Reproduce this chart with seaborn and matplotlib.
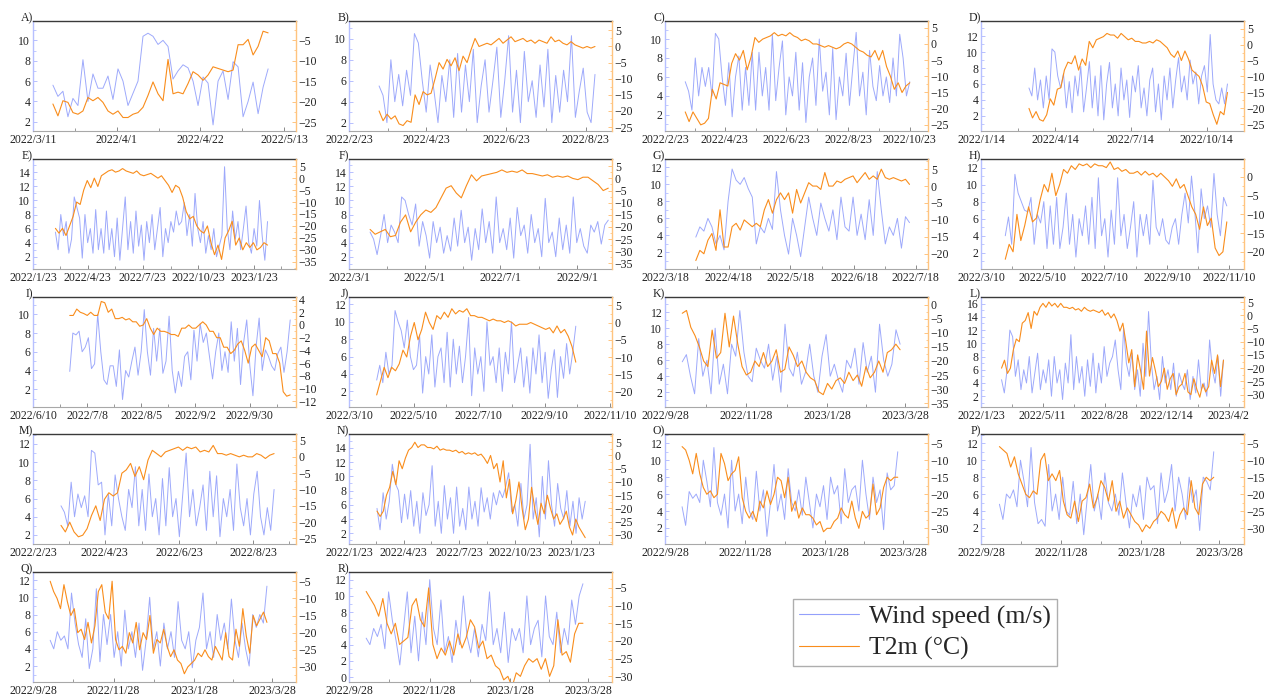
import numpy as np
import pandas as pd
import matplotlib
matplotlib.use("Agg")
import matplotlib.pyplot as plt
import matplotlib.dates as mdates
from matplotlib.ticker import MultipleLocator, FixedLocator
from matplotlib.lines import Line2D
import seaborn as sns

sns.set_theme(style="white")
plt.rcParams['font.family'] = ['Liberation Serif', 'DejaVu Serif']
plt.rcParams['axes.unicode_minus'] = True

WIND_COLOR = "#93a0fb"
TEMP_COLOR = "#f98d1c"

# ---------------- data ----------------
A_ticks = ["2022/3/11", "2022/4/1", "2022/4/22", "2022/5/13"]
A_span = ("2022-03-16", "2022-05-09")
A_wind = [5.6, 4.5, 5.0, 2.5, 4.3, 3.6, 8.1, 4.0, 6.7, 5.3, 5.3, 6.5, 4.2, 7.2, 6.0, 3.6, 4.8, 6.0, 10.4, 10.7,
          10.4, 9.6, 10.0, 9.4, 6.2, 7.0, 7.6, 7.3, 6.0, 3.6, 6.4, 5.8, 1.7, 6.0, 7.0, 4.2, 7.9, 7.4, 2.5, 4.0,
          5.9, 2.8, 5.4, 7.2]
A_temp = [-20.6, -23.5, -19.8, -20.2, -22.7, -23.1, -22.3, -19.0, -19.8, -19.0, -20.2, -22.3, -23.1, -22.3,
          -23.9, -23.9, -23.1, -22.7, -21.4, -18.5, -15.2, -18.1, -19.8, -9.7, -18.1, -17.7, -18.1, -15.6,
          -12.7, -13.5, -14.8, -13.5, -11.5, -11.9, -12.3, -12.7, -12.3, -6.1, -6.1, -4.8, -8.6, -6.5, -2.8, -3.2]

B_ticks = ["2022/2/23", "2022/4/23", "2022/6/23", "2022/8/23"]
B_span = ("2022-03-18", "2022-08-30")
B_wind = [5.5, 4.6, 2.0, 8.0, 4.0, 6.6, 3.6, 7.0, 4.6, 10.5, 9.6, 6.0, 3.0, 7.5, 5.0, 2.0, 6.5, 4.0, 8.0, 2.5,
          8.6, 3.0, 7.5, 4.0, 9.0, 2.0, 5.5, 8.0, 3.0, 6.0, 9.2, 2.5, 6.0, 10.3, 3.0, 7.0, 2.0, 8.8, 4.0, 6.0,
          2.5, 7.5, 3.5, 9.0, 2.0, 6.5, 3.0, 7.0, 4.0, 10.3, 2.5, 5.0, 7.2, 3.0, 2.0, 6.6]
B_temp = [-20, -23, -21, -22.5, -21.5, -24, -24.5, -23, -23.5, -15, -18, -14, -15, -14.5, -10, -5, -7, -4, -6,
          -3.5, -7.5, -3, -5, -1, 2.5, 0, 0.5, 1, 0.5, 1.5, 2.5, 1, 2, 3, 1.5, 2, 2.5, 1.5, 2, 1, 2, 1.5, 1, 3,
          1.5, 2, 1, 0.5, 1.5, 0.5, 0, -0.5, 0, -0.5, 0]

C_ticks = ["2022/2/23", "2022/4/23", "2022/6/23", "2022/8/23", "2022/10/23"]
C_span = ("2022-03-15", "2022-10-23")
C_wind = [5.5, 4.5, 2.5, 8.0, 4.0, 7.0, 5.0, 7.0, 4.0, 10.6, 10.0, 6.0, 3.0, 7.5, 1.8, 6.0, 8.2, 2.5, 7.0, 3.0,
          8.6, 2.5, 8.6, 4.0, 7.0, 2.5, 10.5, 3.5, 7.0, 9.8, 2.0, 6.0, 4.0, 8.6, 2.5, 7.5, 1.2, 6.0, 8.0, 3.0,
          10.0, 4.5, 6.5, 2.0, 9.0, 1.5, 6.0, 4.0, 8.5, 3.0, 7.0, 10.7, 4.0, 6.5, 2.0, 8.8, 5.0, 3.5, 7.2, 4.0,
          6.0, 3.3, 8.0, 4.0, 10.5, 8.0, 4.0, 5.5]
C_temp = [-21, -24, -21, -23, -25, -24.5, -23, -14, -17, -12, -12.5, -13, -6, -3, -5, -2, -8, -4, 2, 0.5, 1.5,
          2, 2.5, 3.5, 2.5, 3, 2.5, 3.5, 2.5, 2, 1, 1.5, 1, 0, 0, -0.5, -1, -0.5, -1, -1.5, -1, 0, 0.5, 0, -1,
          -2, -2.5, -3.5, -4, -2, -5, -2, -7, -10, -14, -12, -15, -13, -12]

D_ticks = ["2022/1/14", "2022/4/14", "2022/7/14", "2022/10/14"]
D_span = ("2022-03-13", "2022-11-08")
D_wind = [5.5, 4.5, 8.0, 4.0, 6.5, 3.0, 7.0, 4.0, 10.4, 10.0, 7.0, 5.5, 7.3, 3.0, 6.3, 2.4, 7.0, 4.5, 8.2, 2.5,
          5.5, 8.8, 3.0, 7.0, 2.0, 8.3, 1.5, 6.0, 8.7, 3.0, 6.0, 2.0, 8.0, 4.0, 6.5, 1.8, 7.0, 5.0, 8.3, 3.0,
          5.5, 2.0, 6.5, 8.0, 2.5, 6.0, 1.5, 7.0, 4.0, 8.0, 3.0, 6.5, 9.3, 5.0, 7.0, 4.0, 9.0, 6.0, 7.5, 3.5,
          7.0, 8.3, 5.0, 12.2, 6.0, 4.0, 3.5, 5.5, 3.5, 6.0]
D_temp = [-20, -23, -21, -23.5, -24, -22, -17, -19, -14, -13.5, -8, -5.5, -6, -3.5, -8, -4.5, -6.5, 1, -1, 1.5,
          2, 2.5, 3.5, 3, 3, 2, 3.5, 2.5, 1.5, 2, 1, 1, 0.5, 0.5, 1, 0.5, 1.5, 1, 0, -1, -3, -4, -2, -5, -2,
          -4.5, -8, -9, -10, -13, -18, -18.5, -22, -25, -21, -22, -15]

E_ticks = ["2022/1/23", "2022/4/23", "2022/7/23", "2022/10/23", "2023/1/23"]
E_span = ("2022-03-01", "2023-02-14")
E_wind = [5.5, 3.0, 8.0, 5.0, 7.0, 2.5, 4.5, 10.5, 9.0, 7.5, 1.8, 8.0, 4.0, 6.0, 2.5, 8.7, 3.0, 6.0, 2.5, 8.5,
          3.0, 6.0, 2.0, 7.5, 1.5, 6.0, 10.5, 3.0, 7.0, 2.5, 8.5, 3.5, 6.5, 1.5, 7.0, 4.0, 8.0, 3.0, 6.0, 9.0,
          2.0, 6.0, 4.0, 7.0, 5.5, 8.5, 6.5, 7.0, 9.7, 5.0, 8.0, 3.5, 11.0, 6.0, 4.0, 7.0, 2.5, 5.0, 3.0, 6.0,
          2.0, 3.5, 5.0, 14.8, 6.0, 3.0, 8.5, 4.5, 7.0, 3.0, 6.0, 9.2, 4.0, 2.5, 6.0, 3.5, 10.0, 5.0, 1.5, 7.0]
E_temp = [-21, -23, -21, -24, -20, -16, -10, -11, -5, -1, -4, 0, -3.5, 1, 2, 3, 3.5, 2.5, 3, 4, 3, 2.5, 2, 3,
          1.5, 1, 1.5, 2, 1, 0, 1, -1, -3, -6, -3, -4, -8, -14, -17, -16, -20, -22, -23, -20, -27, -32, -28,
          -34, -25, -22, -18, -28, -25, -30, -27, -29, -27, -30, -29, -27, -28]

F_ticks = ["2022/3/1", "2022/5/1", "2022/7/1", "2022/9/1"]
F_span = ("2022-03-18", "2022-09-26")
F_wind = [5.5, 4.5, 2.3, 5.0, 8.0, 4.0, 6.5, 5.5, 4.0, 10.5, 10.0, 8.0, 6.5, 9.5, 3.5, 7.0, 5.0, 1.8, 7.0, 4.0,
          6.2, 2.5, 5.0, 2.8, 7.5, 3.5, 8.6, 4.0, 6.2, 1.5, 6.0, 3.0, 8.8, 4.0, 7.0, 2.5, 10.5, 4.0, 6.0, 3.0,
          7.5, 1.8, 9.0, 5.0, 6.5, 2.5, 8.0, 4.0, 6.0, 2.0, 10.3, 4.0, 5.5, 2.0, 7.5, 3.0, 6.5, 2.5, 10.5, 4.0,
          6.0, 3.5, 2.5, 6.5, 5.5, 7.0, 3.8, 6.5, 7.2]
F_temp = [-21, -23, -22, -21, -24, -23.5, -18, -15, -22, -18, -15, -13, -14, -12, -8, -4, -3, -6, -8, -3, 1.5,
          -1, 1, 1.5, 2, 2.5, 3.5, 2.5, 3, 2.5, 3.5, 2, 2, 1.5, 1, 1.5, 0.5, 1, 0.5, 1, 0, -0.5, 0.5, 0.5, -1,
          -2.5, -5, -4]

G_ticks = ["2022/3/18", "2022/4/18", "2022/5/18", "2022/6/18", "2022/7/18"]
G_span = ("2022-04-02", "2022-07-15")
G_wind = [3.8, 5.0, 4.5, 6.0, 5.0, 3.0, 4.0, 2.3, 8.0, 11.8, 10.5, 10.0, 10.8, 9.5, 8.5, 3.0, 5.0, 4.3, 6.0,
          4.7, 11.5, 7.0, 4.0, 1.8, 6.0, 4.0, 1.5, 5.0, 8.5, 6.0, 4.0, 7.8, 6.0, 4.5, 7.0, 3.5, 8.5, 5.0, 4.5,
          8.5, 4.0, 6.5, 3.5, 8.2, 4.0, 11.5, 7.0, 3.0, 5.0, 4.0, 6.0, 2.5, 6.2, 5.5]
G_temp = [-22, -19, -20, -16, -14, -19, -7, -18, -18, -12, -11, -13, -10, -11, -12, -11, -12, -7, -4, -8, -4,
          -2, -4, -2, -8, -1, -5, -2, 1, 0, 0, -1, 4, 0, 0, 1.5, 1, 2, 2.5, 3, 1, 2.5, 4, 2, 3, 2, 5, 2.5, 2,
          2.5, 2, 1.5, 2, 0.5]

H_ticks = ["2022/3/10", "2022/5/10", "2022/7/10", "2022/9/10", "2022/11/10"]
H_span = ("2022-04-03", "2022-11-08")
H_wind = [4.0, 6.2, 3.0, 11.2, 9.0, 8.0, 7.0, 6.8, 8.5, 3.0, 6.5, 5.5, 8.0, 2.5, 7.5, 3.0, 8.5, 2.5, 5.0, 9.0,
          3.0, 6.5, 1.5, 6.0, 4.0, 7.5, 3.0, 8.5, 2.5, 10.8, 4.0, 6.0, 1.5, 7.0, 3.0, 10.8, 4.0, 6.5, 2.5, 5.0,
          8.0, 1.5, 6.5, 4.0, 6.5, 3.0, 10.5, 5.0, 4.0, 6.0, 3.5, 3.0, 5.0, 6.0, 3.0, 6.5, 9.0, 5.5, 11.0,
          7.0, 2.0, 9.5, 6.0, 7.5, 5.0, 11.3, 6.5, 4.0, 8.5, 7.5]
H_temp = [-22, -18, -20, -10, -17, -13, -8, -12, -11, -6, -2, -4, 1, -5, -2, 2, 1, 3, 2, 3.5, 3, 3.5, 2.5,
          3.5, 3, 3, 2.5, 4, 2, 2.5, 1.5, 2, 1, 1, 1.5, 0.5, 1.5, 0.5, 1, 0, 1, 0, -1, -2.5, -0.5, -3, -2, -5,
          -8, -10, -14, -8, -13, -11, -19, -21, -20, -12]

I_ticks = ["2022/6/10", "2022/7/8", "2022/8/5", "2022/9/2", "2022/9/30"]
I_span = ("2022-06-29", "2022-10-21")
I_wind = [3.9, 8.0, 7.8, 8.2, 6.0, 6.5, 7.5, 4.2, 4.7, 10.0, 6.0, 3.0, 2.5, 4.5, 4.5, 2.3, 6.2, 0.9, 4.0, 3.3,
          5.0, 6.5, 3.5, 6.0, 10.5, 6.0, 3.5, 8.5, 5.0, 8.5, 3.7, 5.0, 9.8, 4.0, 1.6, 3.9, 2.3, 5.5, 6.0, 3.0,
          8.3, 5.0, 9.0, 7.0, 8.0, 5.5, 3.1, 6.0, 8.0, 4.0, 6.0, 3.8, 9.2, 5.0, 8.5, 2.5, 7.0, 9.4, 4.5, 1.3,
          6.5, 9.6, 4.0, 6.2, 5.5, 4.5, 4.0, 5.8, 6.5, 3.8, 6.0, 9.4]
I_temp = [1.5, 1.5, 2.5, 2, 1.8, 1.5, 2, 1.5, 1.5, 3.7, 3.5, 2, 2.5, 1, 1, 1.2, 0.8, 1, 0.5, 0.5, -0.2, 0, 1,
          -0.5, -1.5, -0.5, -1, -1, -1.2, -1.5, -1.5, -1.8, -0.5, -0.5, 0, -0.5, -0.5, 0, 0.5, 0, -1, -1, -2,
          -2, -3.5, -3.5, -4.5, -4, -3, -2.5, -4, -6, -3.5, -3, -4, -5, -2, -2.5, -4.5, -4.5, -6, -10.5,
          -11.2, -11]

J_ticks = ["2022/3/10", "2022/5/10", "2022/7/10", "2022/9/10", "2022/11/10"]
J_span = ("2022-04-05", "2022-10-09")
J_wind = [3.3, 5.0, 3.0, 6.5, 4.0, 5.0, 11.3, 10.0, 9.0, 7.0, 10.2, 6.0, 4.5, 5.0, 8.5, 1.8, 6.0, 4.0, 8.5,
          2.5, 6.0, 7.0, 3.0, 8.8, 2.5, 8.0, 4.0, 7.2, 3.0, 6.0, 10.5, 1.5, 7.0, 4.0, 6.0, 2.0, 10.0, 5.0, 6.0,
          3.0, 7.0, 2.0, 6.5, 4.0, 10.0, 3.0, 5.0, 7.0, 2.5, 6.0, 1.8, 7.0, 4.0, 8.5, 3.0, 6.5, 1.2, 4.5, 6.8,
          1.3, 6.0, 3.5, 7.5, 4.0, 6.5, 9.5]
J_temp = [-21, -17, -13, -16, -13, -14, -12, -8, -10, -4, 0, -5, -2, 3, 0, -2, 2, 1, 3, 1.5, 4, 2.5, 3.5, 3,
          4, 2, 2, 1.5, 1.5, 1, 0.5, 1, 0.5, 0.5, 0, 0.5, 0, -1, -0.5, -0.5, -0.5, 0, -0.5, -1, -1.5, -2,
          -1.5, -3, -1, -3, -2, -4, -7, -11.5]

K_ticks = ["2022/9/28", "2022/11/28", "2023/1/28", "2023/3/28"]
K_span = ("2022-10-11", "2023-03-24")
K_wind = [5.8, 6.7, 4.0, 1.8, 8.7, 4.0, 6.0, 1.8, 10.0, 3.0, 5.5, 1.8, 8.0, 6.5, 12.2, 7.0, 4.0, 3.3, 7.5, 6.0,
          5.0, 8.0, 3.5, 6.5, 2.0, 10.5, 5.0, 4.0, 7.0, 3.0, 4.5, 8.0, 4.0, 2.0, 6.5, 9.2, 4.0, 5.5, 3.5, 2.0,
          6.0, 5.0, 7.5, 3.0, 8.2, 4.5, 6.5, 2.0, 10.5, 6.0, 4.0, 5.5, 9.8, 8.0]
K_temp = [-3, -2, -8, -11, -15, -20, -22, -9, -19, -17, -3, -15, -4, -14, -22, -25, -24, -20, -22, -17, -22,
          -20, -16, -24, -23, -15, -18, -22, -20, -24, -26, -27, -31, -32, -28, -30, -27, -26, -28, -24, -27,
          -25, -29, -22, -26, -24, -20, -24, -17, -16, -14, -16]

L_ticks = ["2022/1/23", "2022/5/11", "2022/8/28", "2022/12/14", "2023/4/2"]
L_span = ("2022-02-28", "2023-03-24")
L_wind = [4.5, 2.5, 6.0, 12.0, 11.0, 5.0, 7.5, 3.0, 6.0, 4.0, 8.0, 2.5, 5.5, 8.5, 3.0, 6.0, 4.0, 7.5, 2.0, 8.0,
          4.0, 6.0, 1.5, 7.0, 4.0, 11.3, 3.0, 8.0, 4.0, 6.5, 2.0, 7.5, 3.5, 8.5, 2.5, 7.0, 4.0, 9.5, 5.0, 7.0,
          8.0, 10.5, 6.0, 3.0, 12.3, 7.0, 5.0, 8.5, 3.0, 6.0, 2.0, 10.0, 5.0, 14.8, 7.0, 3.0, 5.0, 1.5, 8.0,
          4.0, 6.0, 3.0, 7.0, 2.0, 5.5, 4.0, 3.0, 6.0, 1.5, 5.0, 2.5, 7.5, 3.0, 4.0, 2.0, 10.5, 6.0, 4.0, 8.0,
          2.0, 7.5]
L_temp = [-20, -17, -22, -20, -13, -9, -10, -3, -2, 1, -5, 1.5, 0, 3, 4.5, 3, 5, 3.5, 4.5, 3, 4.5, 3, 3, 2.5,
          3, 2, 2.5, 1.5, 3, 2, 1.5, 2, 1.5, 1, 2, 0, 1, -1, 0.5, -2, -6, -3, -10, -18, -13, -27, -15, -21,
          -28, -6, -23, -16, -21, -27, -25, -20, -28, -24, -22, -30, -27, -26, -22, -29, -30, -24, -28, -31,
          -26, -29, -27, -17, -22, -15, -27, -17]

M_ticks = ["2022/2/23", "2022/4/23", "2022/6/23", "2022/8/23"]
M_span = ("2022-03-18", "2022-09-09")
M_wind = [5.2, 4.5, 3.0, 7.8, 4.0, 6.5, 5.0, 6.3, 4.0, 11.3, 11.0, 7.5, 7.8, 2.0, 6.5, 3.0, 8.6, 6.0, 4.0, 2.5,
          7.0, 5.0, 9.5, 3.0, 7.0, 2.5, 8.7, 4.0, 6.0, 2.0, 8.2, 3.0, 9.4, 4.0, 6.0, 1.8, 6.5, 11.0, 4.0, 7.0,
          3.0, 5.0, 7.5, 2.5, 9.0, 4.0, 8.5, 1.8, 6.0, 4.0, 7.0, 2.5, 9.8, 5.0, 3.0, 6.0, 2.0, 6.5, 9.0, 4.0,
          2.0, 5.0, 2.5, 7.0]
M_temp = [-21, -23, -20, -23, -24.5, -24, -22, -18, -15, -19.5, -13, -11, -12, -11, -5, -4, -2, -6, -3, -7,
          -1, 2, 1, 0, 1.5, 2, 2.5, 3, 2, 3, 2.5, 3, 1.5, 2, 1.5, 3.5, 1, 1, 0.5, 1, 0.5, 0, 0.5, 0, 0, 1, 0.5,
          -0.5, 0.5, 1]

N_ticks = ["2022/1/23", "2022/4/23", "2022/7/23", "2022/10/23", "2023/1/23"]
N_span = ("2022-03-10", "2023-02-15")
N_wind = [5.5, 2.5, 7.7, 4.0, 6.5, 11.7, 9.0, 8.0, 3.5, 7.5, 4.0, 8.0, 3.0, 6.5, 2.0, 7.7, 4.5, 6.0, 11.5, 3.0,
          6.5, 2.0, 8.7, 4.0, 7.0, 2.0, 8.5, 3.0, 5.5, 2.5, 8.5, 4.0, 6.5, 3.0, 8.4, 5.0, 7.0, 4.0, 7.7, 6.0,
          8.0, 7.0, 8.5, 10.5, 5.0, 6.0, 3.0, 9.0, 4.0, 6.0, 14.5, 4.0, 7.0, 1.5, 10.0, 4.0, 12.2, 6.0, 3.0,
          9.0, 5.5, 4.0, 8.0, 3.0, 6.5, 2.0, 7.0, 4.0, 6.5]
N_temp = [-21, -23, -21, -15, -12, -6, -11, -2, -5, -1, 2, 3, 5, 3, 4, 4, 3, 3, 2.5, 3.5, 2, 2.5, 2, 2, 1.5,
          2, 1, 1.5, 0.5, 1, 0.5, 1, 0, 0.5, -1, -3, 0, -5, -3, -10, -2, -16, -9, -22, -17, -10, -20, -28,
          -24, -12, -20, -26, -18, -22, -15, -20, -24, -22, -26, -24, -21, -27, -30, -24, -27, -29, -31]

O_ticks = ["2022/9/28", "2022/11/28", "2023/1/28", "2023/3/28"]
O_span = ("2022-10-11", "2023-03-24")
O_wind = [4.5, 2.3, 6.3, 5.5, 6.0, 5.0, 10.0, 7.5, 4.5, 11.5, 5.0, 3.5, 6.0, 2.0, 10.0, 4.0, 6.0, 2.5, 8.0,
          4.0, 3.0, 8.7, 4.0, 6.5, 1.0, 5.0, 9.5, 4.0, 6.0, 3.0, 9.0, 5.0, 4.0, 6.5, 3.5, 8.0, 5.0, 2.0, 6.0,
          4.5, 7.0, 3.0, 8.0, 6.0, 7.0, 2.5, 9.0, 5.0, 6.5, 7.0, 4.0, 10.0, 6.0, 3.0, 8.0, 5.0, 6.5, 1.8, 8.5,
          6.5, 7.0, 11.0]
O_temp = [-6, -7, -10, -14, -8, -14, -18, -20, -19, -21, -20, -8, -11, -16, -14, -13, -9, -21, -25, -27, -25,
          -28, -22, -24, -19, -23, -20, -15, -16, -21, -15, -25, -22, -27, -24, -26, -26, -27, -29, -28, -31,
          -30, -30, -28, -27, -24, -26, -27, -22, -27, -30, -25, -27, -26, -17, -26, -24, -18, -15, -16, -15,
          -15]

P_ticks = ["2022/9/28", "2022/11/28", "2023/1/28", "2023/3/28"]
P_span = ("2022-10-12", "2023-03-24")
P_wind = [4.8, 3.0, 6.0, 5.5, 6.5, 4.5, 10.0, 7.5, 4.5, 11.5, 5.0, 2.5, 3.0, 2.2, 9.5, 4.0, 6.0, 3.0, 8.0, 4.0,
          3.5, 7.5, 2.5, 6.0, 1.2, 5.5, 9.5, 4.0, 6.0, 3.0, 8.5, 5.0, 4.0, 6.0, 3.5, 8.5, 5.0, 2.0, 6.0, 4.5,
          7.0, 3.0, 8.0, 6.5, 7.0, 2.5, 8.5, 5.0, 6.5, 9.5, 4.0, 8.0, 6.0, 3.0, 8.0, 5.0, 6.5, 1.7, 8.0, 7.5,
          6.5, 11.0]
P_temp = [-6, -7, -8, -12, -9, -14, -17, -20, -21, -19, -20, -10, -8, -16, -14, -16, -13, -22, -26, -27, -22,
          -28, -22, -21, -17, -24, -21, -16, -18, -22, -16, -25, -22, -27, -24, -26, -28, -29, -31, -29, -30,
          -28, -27, -25, -26, -28, -24, -30, -26, -24, -26, -16, -24, -26, -17, -15, -16, -15]

Q_ticks = ["2022/9/28", "2022/11/28", "2023/1/28", "2023/3/28"]
Q_span = ("2022-10-11", "2023-03-24")
Q_wind = [5.0, 4.0, 6.0, 5.0, 5.5, 4.0, 10.5, 7.0, 4.5, 3.0, 7.5, 1.7, 4.0, 11.0, 2.5, 8.0, 4.5, 8.0, 3.0, 6.0,
          2.0, 8.5, 4.0, 6.0, 3.0, 7.0, 1.5, 5.0, 10.0, 4.0, 6.0, 2.0, 7.0, 4.0, 6.0, 3.0, 9.5, 5.0, 4.0, 6.0,
          1.8, 5.0, 6.5, 10.5, 4.0, 6.0, 3.0, 8.0, 5.0, 7.0, 4.0, 9.8, 5.0, 3.0, 7.0, 4.0, 2.0, 8.0, 6.5, 8.0,
          7.0, 11.3]
Q_temp = [-5, -8, -10, -13, -6, -11, -15, -13, -20, -19, -22, -17, -23, -18, -8, -6, -14, -16, -5, -22, -25,
          -24, -26, -20, -23, -17, -25, -20, -22, -15, -26, -22, -23, -19, -24, -27, -25, -28, -29, -32, -30,
          -29, -28, -26, -27, -25, -27, -28, -24, -26, -28, -20, -27, -28, -19, -24, -13, -21, -26, -15, -18,
          -16, -14, -17]

R_ticks = ["2022/9/28", "2022/11/28", "2023/1/28", "2023/3/28"]
R_span = ("2022-10-11", "2023-03-24")
R_wind = [4.8, 4.0, 6.0, 5.0, 6.5, 3.5, 10.5, 7.0, 4.5, 1.5, 6.0, 10.5, 3.0, 7.5, 2.0, 8.0, 4.0, 12.0, 6.0, 4.0,
          9.5, 3.0, 5.0, 1.8, 7.0, 4.0, 10.0, 5.0, 3.0, 6.0, 2.5, 6.5, 4.5, 10.5, 4.0, 6.0, 3.0, 8.0, 1.8, 6.0,
          4.5, 6.0, 3.0, 10.0, 4.0, 6.0, 7.0, 2.5, 10.0, 5.0, 4.0, 8.0, 3.0, 6.0, 4.0, 9.5, 6.5, 10.0, 11.5]
R_temp = [-6, -8, -10, -13, -8, -15, -18, -15, -21, -20, -19, -10, -8, -14, -16, -5, -21, -25, -22, -24, -20,
          -24, -18, -22, -19, -14, -16, -22, -20, -25, -24, -27, -28, -31, -30, -33, -29, -30, -27, -25, -26,
          -25, -28, -25, -30, -27, -14, -24, -23, -26, -18, -15, -15]

panels = [
    ("A)", A_ticks, A_span, A_wind, A_temp), ("B)", B_ticks, B_span, B_wind, B_temp),
    ("C)", C_ticks, C_span, C_wind, C_temp), ("D)", D_ticks, D_span, D_wind, D_temp),
    ("E)", E_ticks, E_span, E_wind, E_temp), ("F)", F_ticks, F_span, F_wind, F_temp),
    ("G)", G_ticks, G_span, G_wind, G_temp), ("H)", H_ticks, H_span, H_wind, H_temp),
    ("I)", I_ticks, I_span, I_wind, I_temp), ("J)", J_ticks, J_span, J_wind, J_temp),
    ("K)", K_ticks, K_span, K_wind, K_temp), ("L)", L_ticks, L_span, L_wind, L_temp),
    ("M)", M_ticks, M_span, M_wind, M_temp), ("N)", N_ticks, N_span, N_wind, N_temp),
    ("O)", O_ticks, O_span, O_wind, O_temp), ("P)", P_ticks, P_span, P_wind, P_temp),
    ("Q)", Q_ticks, Q_span, Q_wind, Q_temp), ("R)", R_ticks, R_span, R_wind, R_temp),
]

# ---------------- layout / styling ----------------
axis_style = {
    "A)": dict(xmax="2022-05-16", yl=(1.1, 11.9), yr=(-27.2, -0.3), rstep=5),
    "B)": dict(xmax="2022-09-12", yl=(1.2, 11.7), yr=(-26.2, 7.9), rstep=5),
    "C)": dict(xmax="2022-11-10", yl=(0.3, 11.9), yr=(-26.9, 7.1), rstep=5),
    "D)": dict(xmax="2022-11-28", yl=(0.1, 13.9), yr=(-27.1, 7.4), rstep=5),
    "E)": dict(xmax="2023-04-02", yl=(0.25, 15.9), yr=(-38.0, 8.0), rstep=5),
    "F)": dict(xmax="2022-09-29", yl=(0.25, 15.9), yr=(-37.3, 8.0), rstep=5),
    "G)": dict(xmax="2022-07-24", yl=(0.05, 12.98), yr=(-24.5, 8.0), rstep=5),
    "H)": dict(xmax="2022-11-25", yl=(0.1, 13.0), yr=(-24.6, 4.8), rstep=5),
    "I)": dict(xmax="2022-10-24", yl=(0.1, 11.85), yr=(-12.9, 4.4), rstep=2),
    "J)": dict(xmax="2022-11-12", yl=(0.2, 12.86), yr=(-24.5, 7.4), rstep=5),
    "K)": dict(xmax="2023-04-14", yl=(0.15, 13.9), yr=(-36.4, 2.8), rstep=5),
    "L)": dict(xmax="2023-04-29", yl=(0.37, 17.0), yr=(-34.7, 6.9), rstep=5),
    "M)": dict(xmax="2022-09-27", yl=(1.0, 13.1), yr=(-26.7, 7.0), rstep=5),
    "N)": dict(xmax="2023-03-31", yl=(0.5, 15.95), yr=(-33.4, 8.1), rstep=5),
    "O)": dict(xmax="2023-04-16", yl=(0.1, 13.1), yr=(-34.6, -2.3), rstep=5),
    "P)": dict(xmax="2023-04-16", yl=(0.1, 13.1), yr=(-34.6, -2.3), rstep=5),
    "Q)": dict(xmax="2023-04-15", yl=(0.14, 12.95), yr=(-34.4, -2.3), rstep=5),
    "R)": dict(xmax="2023-04-15", yl=(-0.6, 12.95), yr=(-31.6, -0.5), rstep=5),
}

W, H = 1271, 697
fig = plt.figure(figsize=(W / 100, H / 100), dpi=100)
col_left = [33, 349, 665, 981]
row_top = [21, 159, 297, 434, 572]
aw, ah = 263, 110

FS = 8.5
for i, (lab, ticks, span, wind, temp) in enumerate(panels):
    r, c = divmod(i, 4)
    st = axis_style[lab]
    ax = fig.add_axes([col_left[c] / W, 1 - (row_top[r] + ah) / H, aw / W, ah / H])
    dw = pd.DataFrame({"date": pd.date_range(span[0], span[1], periods=len(wind)), "wind": wind})
    dt = pd.DataFrame({"date": pd.date_range(span[0], span[1], periods=len(temp)), "temp": temp})
    sns.lineplot(data=dw, x="date", y="wind", ax=ax, color=WIND_COLOR, lw=0.7, alpha=0.9)
    ax2 = ax.twinx()
    sns.lineplot(data=dt, x="date", y="temp", ax=ax2, color=TEMP_COLOR, lw=0.8)

    tpos = pd.to_datetime(ticks, format="%Y/%m/%d")
    x0 = mdates.date2num(tpos[0])
    x1 = mdates.date2num(pd.Timestamp(st["xmax"]))
    ax.set_xlim(x0, x1)
    ax.set_xticks(mdates.date2num(tpos))
    ax.set_xticklabels(ticks)
    tn = mdates.date2num(tpos)
    minors = list((tn[:-1] + tn[1:]) / 2)
    step = tn[1] - tn[0]
    if tn[-1] + step / 2 < x1:
        minors.append(tn[-1] + step / 2)
    ax.xaxis.set_minor_locator(FixedLocator(minors))

    ax.set_ylim(*st["yl"])
    ax2.set_ylim(*st["yr"])
    ax.yaxis.set_major_locator(MultipleLocator(2))
    ax.yaxis.set_minor_locator(MultipleLocator(1))
    ax2.yaxis.set_major_locator(MultipleLocator(st["rstep"]))
    ax2.yaxis.set_minor_locator(MultipleLocator(st["rstep"] / 2))

    for a in (ax, ax2):
        a.set_xlabel("")
        a.set_ylabel("")
        a.grid(False)
        a.set_facecolor("none")
    ax.spines["top"].set_color("#3a3a3a"); ax.spines["top"].set_linewidth(1.0)
    ax.spines["bottom"].set_color("#a8a8a8"); ax.spines["bottom"].set_linewidth(0.8)
    ax.spines["left"].set_color("#b7c0ff"); ax.spines["left"].set_linewidth(1.0)
    ax.spines["right"].set_visible(False)
    for s in ("top", "bottom", "left"):
        ax2.spines[s].set_visible(False)
    ax2.spines["right"].set_visible(True)
    ax2.spines["right"].set_color("#ffc47f"); ax2.spines["right"].set_linewidth(1.0)

    ax.tick_params(axis="x", which="both", direction="in", color="#8a8a8a", labelcolor="#222222",
                   labelsize=FS, pad=2, bottom=True)
    ax.tick_params(axis="x", which="major", length=3, width=0.7)
    ax.tick_params(axis="x", which="minor", length=2, width=0.6)
    ax.tick_params(axis="y", which="both", direction="in", color="#b7c0ff", labelcolor="#222222",
                   labelsize=FS, pad=2, left=True)
    ax.tick_params(axis="y", which="major", length=3, width=0.7)
    ax.tick_params(axis="y", which="minor", length=1.8, width=0.6)
    ax2.tick_params(axis="y", which="both", direction="in", color="#ffc47f", labelcolor="#222222",
                    labelsize=FS, pad=2, right=True)
    ax2.tick_params(axis="y", which="major", length=3, width=0.7)
    ax2.tick_params(axis="y", which="minor", length=1.8, width=0.6)

    ax.text(0.0, 1.0, lab, transform=ax.transAxes, ha="right", va="baseline",
            fontsize=FS, color="#222222")

handles = [Line2D([], [], color=WIND_COLOR, lw=0.8), Line2D([], [], color=TEMP_COLOR, lw=0.8)]
fig.legend(handles, ["Wind speed (m/s)", "T2m (\u00b0C)"], loc="upper left",
           bbox_to_anchor=(793 / W, 1 - 599 / H), fontsize=18.5, frameon=True, fancybox=False,
           edgecolor="#9a9a9a", handlelength=2.3, handletextpad=0.4, borderpad=0.25,
           labelspacing=0.3, borderaxespad=0.0)

fig.savefig("out.png", dpi=100)
